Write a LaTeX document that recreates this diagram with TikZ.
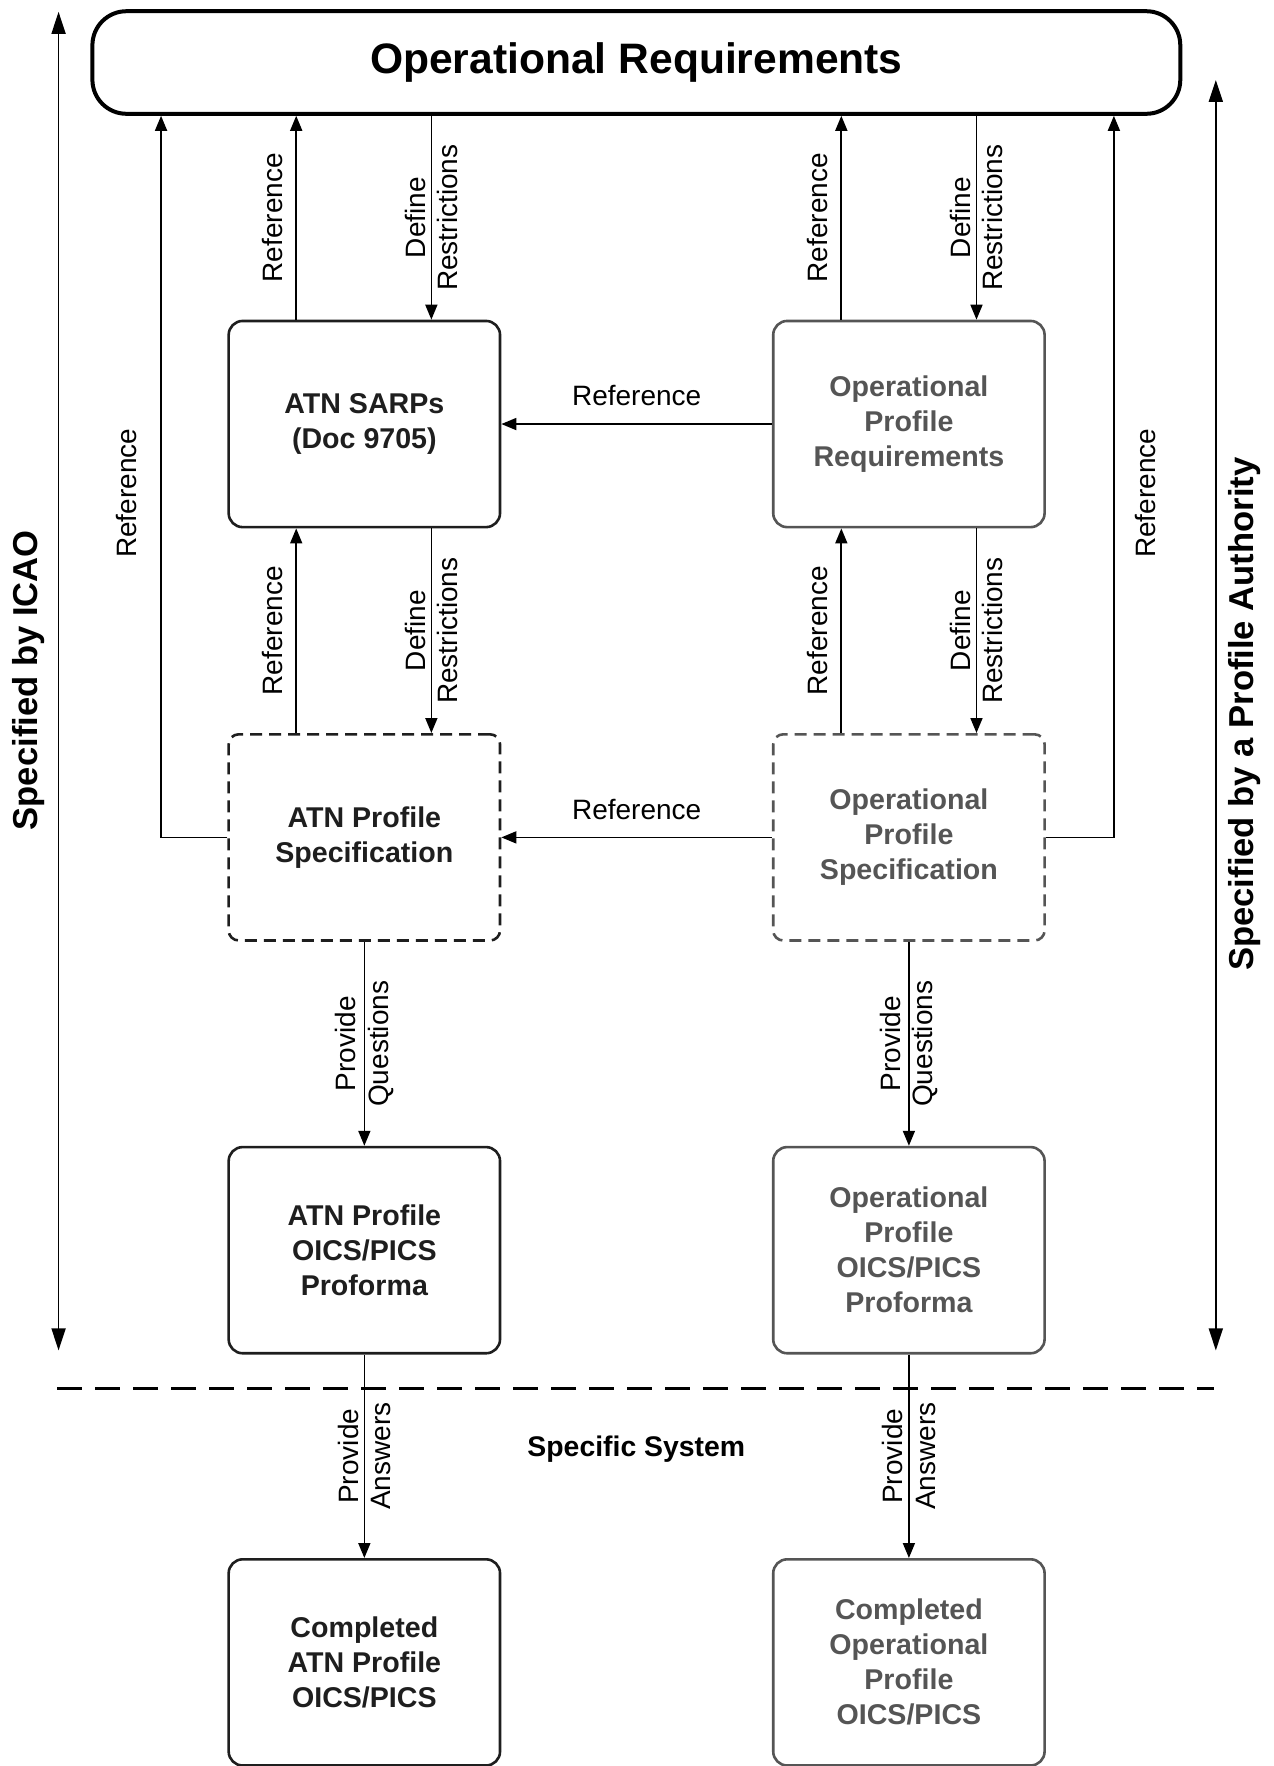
\documentclass[tikz,border=0pt]{standalone}
\usepackage{fontspec}
\setmainfont{Liberation Sans}
\usetikzlibrary{arrows.meta,calc}
\definecolor{ink}{HTML}{1E1E1E}
\definecolor{opgray}{HTML}{555555}

\begin{document}
\begin{tikzpicture}[x=0.5632pt,y=-0.5632pt,
  box/.style={draw=ink, line width=1.3pt, rounded corners=7pt,
    minimum width=135.7pt, minimum height=103.1pt, inner sep=0pt,
    align=center, text=ink, font=\bfseries\fontsize{14.3}{17.5}\selectfont},
  opbox/.style={box, draw=opgray, text=opgray},
  dashedbox/.style={dash pattern=on 6pt off 3.5pt, rounded corners=5pt},
  conn/.style={draw=black, line width=0.85pt, -{Triangle[length=7.5pt,width=6pt]}},
  lab/.style={font=\fontsize{14}{16.3}\selectfont, align=center, inner sep=0pt},
  sidelab/.style={font=\bfseries\fontsize{17.3}{20}\selectfont, rotate=90, inner sep=0pt},
  sidearrow/.style={line width=0.85pt, {Triangle[length=11pt,width=7pt]}-{Triangle[length=11pt,width=7pt]}},
]
\useasboundingbox (0,0) rectangle (1131,1568);

% lane positions for the vertical connectors
\coordinate (L0) at (143,0);
\coordinate (L1) at (263,0);
\coordinate (L2) at (383,0);
\coordinate (R1) at (747,0);
\coordinate (R2) at (867,0);
\coordinate (R0) at (989,0);

% top banner
\node[draw=black, line width=2pt, rounded corners=17pt, minimum width=544pt,
      minimum height=51.3pt, inner sep=0pt,
      font=\bfseries\fontsize{21.3}{25}\selectfont] (top) at (565,55.5) {Operational Requirements};

% ICAO column
\node[box] (sarps) at (323.5,376.5) {ATN SARPs\\(Doc 9705)};
\node[box, dashedbox] (atnspec) at (323.5,743.5) {ATN Profile\\Specification};
\node[box] (atnpro) at (323.5,1110) {ATN Profile\\OICS/PICS\\Proforma};
\node[box] (atncomp) at (323.5,1476) {Completed\\ATN Profile\\OICS/PICS};

% profile authority column
\node[opbox] (opr) at (807,376.5) {Operational\\Profile\\Requirements};
\node[opbox, dashedbox] (opspec) at (807,743.5) {Operational\\Profile\\Specification};
\node[opbox] (oppro) at (807,1110) {Operational\\Profile\\OICS/PICS\\Proforma};
\node[opbox] (opcomp) at (807,1476) {Completed\\Operational\\Profile\\OICS/PICS};

% ICAO column connectors
\draw[conn] (sarps.north -| L1) -- (top.south -| L1)
  node[midway, lab, rotate=90, anchor=south, inner ysep=6.5pt] {Reference};
\draw[conn] (top.south -| L2) -- (sarps.north -| L2)
  node[midway, lab, rotate=90] {Define\\Restrictions};
\draw[conn] (atnspec.north -| L1) -- (sarps.south -| L1)
  node[midway, lab, rotate=90, anchor=south, inner ysep=6.5pt] {Reference};
\draw[conn] (sarps.south -| L2) -- (atnspec.north -| L2)
  node[midway, lab, rotate=90] {Define\\Restrictions};
\draw[conn] (atnspec.west) -| (top.south -| L0);
\node[lab, rotate=90] (refL) at (112,438) {Reference};

% profile authority connectors
\draw[conn] (opr.north -| R1) -- (top.south -| R1)
  node[midway, lab, rotate=90, anchor=south, inner ysep=6.5pt] {Reference};
\draw[conn] (top.south -| R2) -- (opr.north -| R2)
  node[midway, lab, rotate=90] {Define\\Restrictions};
\draw[conn] (opspec.north -| R1) -- (opr.south -| R1)
  node[midway, lab, rotate=90, anchor=south, inner ysep=6.5pt] {Reference};
\draw[conn] (opr.south -| R2) -- (opspec.north -| R2)
  node[midway, lab, rotate=90] {Define\\Restrictions};
\draw[conn] (opspec.east) -| (top.south -| R0);
\node[lab, rotate=90] (refR) at (1017,438) {Reference};

% cross references
\draw[conn] (opr.west) -- (sarps.east)
  node[midway, lab, anchor=south, inner ysep=8.5pt] {Reference};
\draw[conn] (opspec.west) -- (atnspec.east)
  node[midway, lab, anchor=south, inner ysep=8.5pt] {Reference};

% questions and answers
\draw[conn] (atnspec.south) -- (atnpro.north)
  node[midway, lab, rotate=90] {Provide\\Questions};
\draw[conn] (opspec.south) -- (oppro.north)
  node[midway, lab, rotate=90] {Provide\\Questions};
\draw[conn] (atnpro.south) -- (atncomp.north)
  node[midway, lab, rotate=90] {Provide\\Answers};
\draw[conn] (oppro.south) -- (opcomp.north)
  node[midway, lab, rotate=90] {Provide\\Answers};

% scope arrows
\coordinate (icaoTop) at (52,10.5);
\coordinate (icaoBot) at (52,1199);
\coordinate (authTop) at (1079.5,71);
\coordinate (authBot) at (1079.5,1199);
\draw[sidearrow] (icaoTop) -- (icaoBot);
\draw[sidearrow] (authTop) -- (authBot);
\node[sidelab] (icao) at (25,604) {Specified by ICAO};
\node[sidelab] (auth) at (1105,634) {Specified by a Profile Authority};

% boundary of the specific system
\coordinate (sepL) at (51,1233);
\coordinate (sepR) at (1078,1233);
\draw[line width=1.6pt, dash pattern=on 12.5pt off 6.5pt] (sepL) -- (sepR);
\node[font=\bfseries\fontsize{14.2}{17}\selectfont, inner sep=0pt] (sys) at (565,1287) {Specific System};
\end{tikzpicture}
\end{document}
